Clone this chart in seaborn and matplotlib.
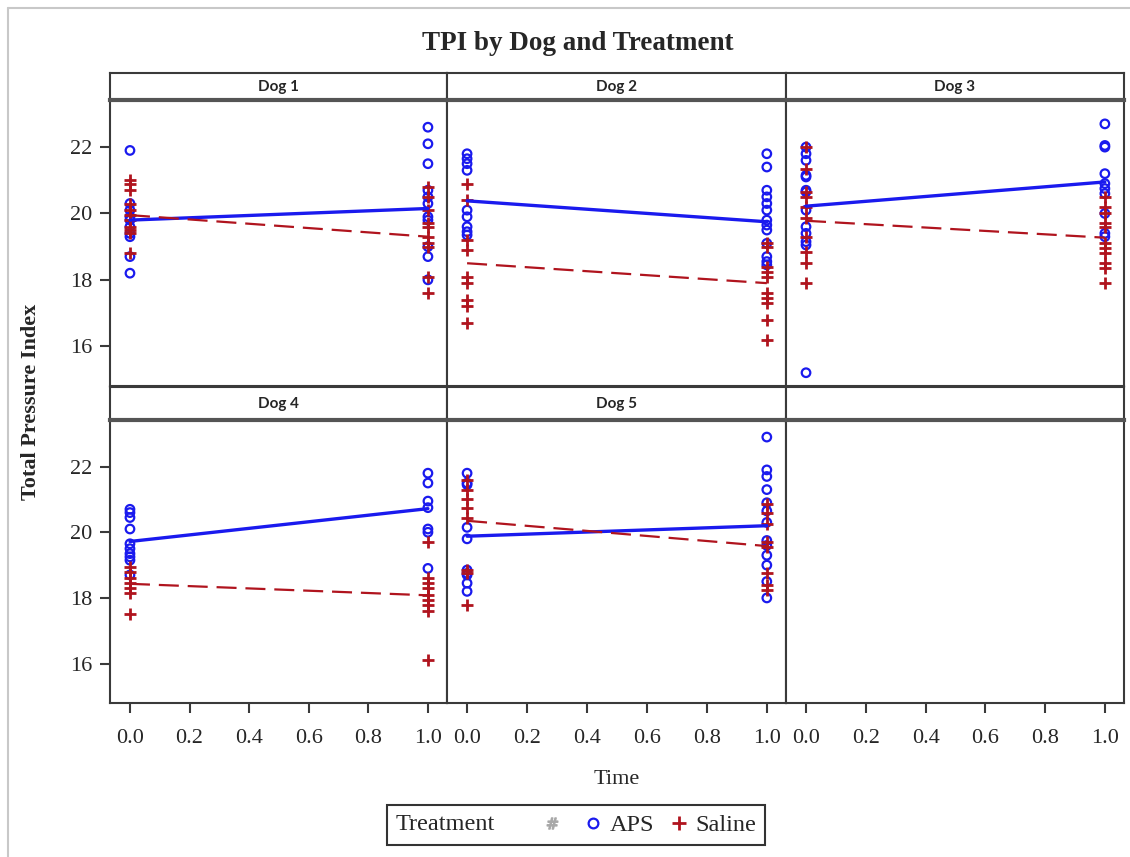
import numpy as np
import pandas as pd
import matplotlib
matplotlib.use("Agg")
import matplotlib.pyplot as plt
from matplotlib.lines import Line2D
from matplotlib.offsetbox import HPacker
import seaborn as sns

# values, one list per dog (Dog 1 .. Dog 5)
DOGS = ["Dog 1", "Dog 2", "Dog 3", "Dog 4", "Dog 5"]
TREATMENTS = ["APS", "Saline"]

APS_T0 = [
    [21.9, 20.3, 20.1, 19.9, 19.8, 19.6, 19.4, 19.3, 18.7, 18.2],
    [21.8, 21.65, 21.5, 21.3, 20.1, 19.9, 19.6, 19.45, 19.35],
    [22.0, 21.8, 21.6, 21.15, 21.1, 20.7, 20.65, 20.1, 19.6, 19.4, 19.15, 19.05, 15.2],
    [20.7, 20.6, 20.45, 20.1, 19.65, 19.5, 19.35, 19.25, 19.15, 18.7],
    [21.8, 21.5, 21.45, 20.15, 19.8, 18.85, 18.75, 18.7, 18.45, 18.2],
]
APS_T1 = [
    [22.6, 22.1, 21.5, 20.7, 20.5, 20.3, 19.9, 19.8, 19.0, 18.7, 18.0],
    [21.8, 21.4, 20.7, 20.5, 20.3, 20.1, 19.8, 19.65, 19.5, 19.1, 18.7, 18.55, 18.45],
    [22.7, 22.05, 22.0, 21.2, 20.9, 20.75, 20.6, 20.0, 19.4, 19.3],
    [21.8, 21.5, 20.95, 20.75, 20.1, 20.0, 18.9],
    [22.9, 21.9, 21.7, 21.3, 20.9, 20.65, 20.3, 19.75, 19.6, 19.3, 19.0, 18.5, 18.0],
]
SAL_T0 = [
    [21.0, 20.9, 20.7, 20.3, 20.1, 19.95, 19.8, 19.6, 19.5, 19.4, 18.8],
    [20.9, 20.4, 19.2, 18.9, 18.1, 17.9, 17.4, 17.2, 16.7],
    [22.0, 21.35, 20.65, 20.5, 20.2, 19.85, 19.3, 18.85, 18.5, 17.9],
    [18.95, 18.8, 18.6, 18.45, 18.3, 18.15, 17.5],
    [21.6, 21.3, 21.0, 20.75, 20.45, 18.85, 18.75, 17.8],
]
SAL_T1 = [
    [20.8, 20.5, 20.1, 19.7, 19.6, 19.3, 19.1, 19.0, 18.1, 17.6],
    [19.1, 19.0, 18.4, 18.25, 18.1, 17.6, 17.45, 17.3, 16.8, 16.2],
    [20.5, 20.2, 20.0, 19.7, 19.6, 19.1, 18.95, 18.8, 18.5, 18.35, 17.9],
    [19.7, 18.6, 18.45, 18.3, 18.1, 17.95, 17.8, 17.6, 16.1],
    [20.85, 20.6, 20.25, 19.7, 19.55, 18.75, 18.4, 18.25],
]
# fitted line ends (Time 0, Time 1)
APS_FIT = [(19.8, 20.15), (20.38, 19.75), (20.22, 20.95), (19.72, 20.72), (19.88, 20.2)]
SAL_FIT = [(19.95, 19.3), (18.5, 17.9), (19.78, 19.27), (18.43, 18.08), (20.35, 19.58)]
TIME_TICKS = [0.0, 0.2, 0.4, 0.6, 0.8, 1.0]
TPI_TICKS = [16, 18, 20, 22]

BLUE = "#1a1aee"
RED = "#b0141e"
EDGE = "#3a3a3a"

rows = []
for i, dog in enumerate(DOGS):
    for trt, t0, t1 in [("APS", APS_T0, APS_T1), ("Saline", SAL_T0, SAL_T1)]:
        for v in t0[i]:
            rows.append((dog, trt, 0.0, v))
        for v in t1[i]:
            rows.append((dog, trt, 1.0, v))
df = pd.DataFrame(rows, columns=["Dog", "Treatment", "Time", "TPI"])

fits = []
for i, dog in enumerate(DOGS):
    for trt, fit in [("APS", APS_FIT), ("Saline", SAL_FIT)]:
        fits.append((dog, trt, 0.0, fit[i][0]))
        fits.append((dog, trt, 1.0, fit[i][1]))
fit_df = pd.DataFrame(fits, columns=["Dog", "Treatment", "Time", "TPI"])

sns.set_style("white")
plt.rcParams["font.family"] = ["Liberation Serif", "DejaVu Serif"]

W, H = 1130, 857
fig = plt.figure(figsize=(W / 100, H / 100), dpi=100)


def rect(x0, y0, x1, y1):
    return [x0 / W, 1 - y1 / H, (x1 - x0) / W, (y1 - y0) / H]


cols = [(110, 447), (447, 786), (786, 1124)]
plot_rows = [(100, 386), (420, 703)]
head_rows = [(73, 100), (387, 420)]

for k in range(6):
    r, c = divmod(k, 3)
    x0, x1 = cols[c]
    ax = fig.add_axes(rect(x0, plot_rows[r][0], x1, plot_rows[r][1]))
    hx = fig.add_axes(rect(x0, head_rows[r][0], x1, head_rows[r][1]))
    hx.set_xticks([])
    hx.set_yticks([])
    for s in hx.spines.values():
        s.set_color(EDGE)
        s.set_linewidth(1.5)
    hx.spines["bottom"].set_linewidth(3)
    hx.spines["bottom"].set_color("#555555")

    if k < len(DOGS):
        dog = DOGS[k]
        hx.text(0.5, 0.5, dog, ha="center", va="center", fontsize=11,
                family=["Lato", "DejaVu Sans"], fontweight="bold")
        sub = df[df["Dog"] == dog]
        sns.scatterplot(data=sub[sub["Treatment"] == "APS"], x="Time", y="TPI",
                        marker="o", s=38, facecolors="none", edgecolor=BLUE,
                        linewidth=1.6, ax=ax, zorder=3)
        sns.scatterplot(data=sub[sub["Treatment"] == "Saline"], x="Time", y="TPI",
                        marker="+", s=70, color=RED, linewidth=2.0, ax=ax, zorder=3)
        fsub = fit_df[fit_df["Dog"] == dog]
        sns.lineplot(data=fsub[fsub["Treatment"] == "APS"], x="Time", y="TPI",
                     color=BLUE, linewidth=2.4, ax=ax, zorder=4)
        sns.lineplot(data=fsub[fsub["Treatment"] == "Saline"], x="Time", y="TPI",
                     color=RED, linewidth=1.6, linestyle=(0, (9, 4)), ax=ax, zorder=4)

    ax.set_xlim(-0.067, 1.064)
    ax.set_ylim(14.8, 23.42)
    ax.set_xlabel("")
    ax.set_ylabel("")
    for s in ax.spines.values():
        s.set_color(EDGE)
        s.set_linewidth(1.5)
    ax.tick_params(direction="out", length=7, width=1.5, color=EDGE,
                   labelsize=16, pad=6)
    if c == 0:
        ax.set_yticks(TPI_TICKS)
        ax.set_yticklabels([str(t) for t in TPI_TICKS])
        ax.tick_params(axis="y", left=True)
    else:
        ax.set_yticks([])
    if r == 1:
        ax.set_xticks(TIME_TICKS)
        ax.set_xticklabels([f"{t:.1f}" for t in TIME_TICKS])
        ax.tick_params(axis="x", bottom=True, pad=12)
    else:
        ax.set_xticks([])

fig.text(578 / W, 1 - 43 / H, "TPI by Dog and Treatment", ha="center",
         va="center", fontsize=19.5, fontweight="bold")
fig.text(617 / W, 1 - 780 / H, "Time", ha="center", va="center", fontsize=16)
fig.text(31 / W, 1 - 402 / H, "Total Pressure Index", ha="center", va="center",
         fontsize=16, fontweight="bold", rotation=90)

# thin screenshot frame at top and left
fig.add_artist(Line2D([8 / W, 1], [1 - 8 / H, 1 - 8 / H], color="#c8c8c8", lw=1.5))
fig.add_artist(Line2D([8 / W, 8 / W], [0, 1 - 8 / H], color="#c8c8c8", lw=1.5))

# legend: "Treatment" sits inline, to the left of the markers
handles = [
    Line2D([], [], ls="none", marker="$\\#$", color="#a8a8a8", markersize=8),
    Line2D([], [], ls="none", marker="o", mfc="none", mec=BLUE, mew=1.6, markersize=7),
    Line2D([], [], ls="none", marker="+", color=RED, mew=2, markersize=10),
]
leg = fig.legend(handles, ["", "APS", "Saline"], loc="center",
                 bbox_to_anchor=(576 / W, 1 - 825 / H), ncol=3, fontsize=17.5,
                 title="Treatment", title_fontsize=17.5,
                 frameon=True, fancybox=False, edgecolor="black",
                 handlelength=0.8, handletextpad=0.3, columnspacing=0.6,
                 borderpad=0.35)
leg.get_frame().set_linewidth(1.5)
old_box = leg._legend_box
title_box, handle_box = old_box.get_children()
leg._legend_box = HPacker(pad=old_box.pad, sep=34, align="center",
                          children=[title_box, handle_box])
leg._legend_box.set_figure(fig)
leg._legend_box.set_offset(leg._findoffset)

fig.savefig("out.png", dpi=100)
